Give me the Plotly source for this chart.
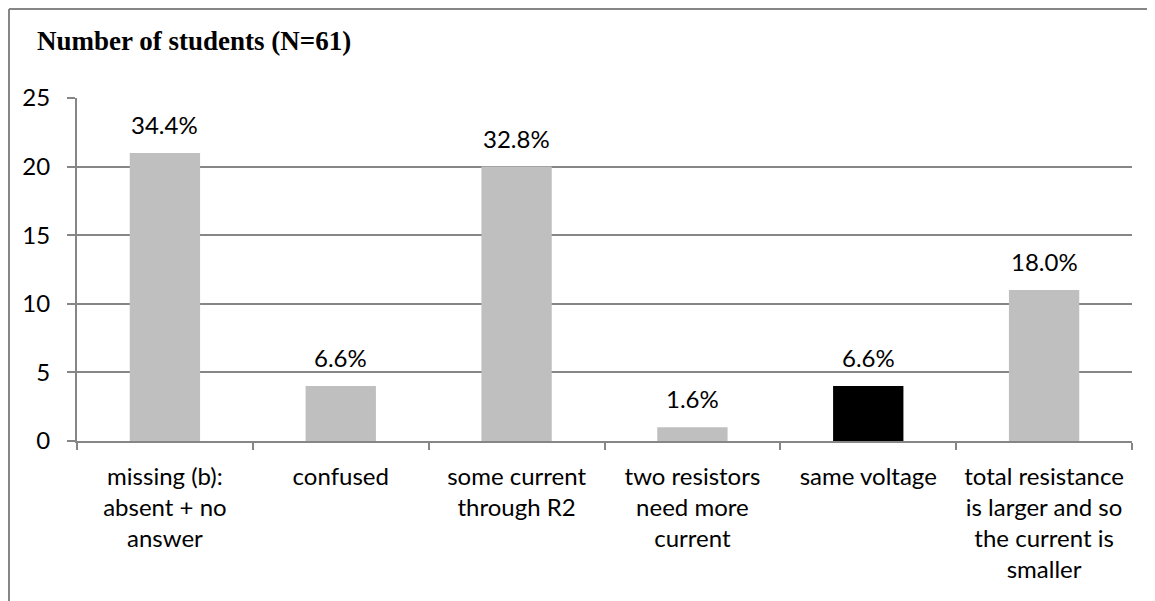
import plotly.graph_objects as go

categories = [
    "missing (b):<br>absent + no<br>answer",
    "confused",
    "some current<br>through R2",
    "two resistors<br>need more<br>current",
    "same voltage",
    "total resistance<br>is larger and so<br>the current is<br>smaller",
]
counts = [21, 4, 20, 1, 4, 11]
pct_labels = ["34.4%", "6.6%", "32.8%", "1.6%", "6.6%", "18.0%"]
bar_colors = ["#BFBFBF", "#BFBFBF", "#BFBFBF", "#BFBFBF", "#000000", "#BFBFBF"]
y_ticks = [0, 5, 10, 15, 20, 25]
title_text = "<b>Number of students (N=61)</b>"

OFF = 8  # page body margin
W, H = 1155 - OFF, 601 - OFF
L, T = 77 - OFF, 98 - OFF
R = W - (1132 - OFF)
B = H - (441 - OFF)
pw, ph = W - L - R, H - T - B

def px_x(p):
    return (p - OFF - L) / pw

def px_y(p):
    return (H - B - (p - OFF)) / ph

FONT = "Lato, Carlito, Calibri, sans-serif"
GRAY = "#868686"

fig = go.Figure()
fig.add_trace(go.Bar(
    x=categories, y=counts,
    marker=dict(color=bar_colors, line=dict(width=0)),
    width=0.4,
    showlegend=False,
    hoverinfo="skip",
))

for c, v, t in zip(categories, counts, pct_labels):
    fig.add_annotation(x=c, y=v, text=t, showarrow=False, yanchor="bottom",
                       yshift=12, font=dict(family=FONT, size=24, color="#000000"))

fig.add_annotation(xref="paper", yref="paper", x=px_x(35), y=px_y(41),
                   xanchor="left", yanchor="middle", text=title_text, showarrow=False,
                   font=dict(family="Liberation Serif, Times New Roman, serif", size=27, color="#000000"))

# outer chart frame (top and left edges visible)
fig.add_shape(type="line", xref="paper", yref="paper",
              x0=px_x(9), x1=px_x(1300), y0=px_y(9), y1=px_y(9),
              line=dict(color=GRAY, width=2), layer="below")
fig.add_shape(type="line", xref="paper", yref="paper",
              x0=px_x(9), x1=px_x(9), y0=px_y(9), y1=px_y(700),
              line=dict(color=GRAY, width=2), layer="below")

fig.update_layout(
    width=W, height=H,
    margin=dict(l=L, r=R, t=T, b=B, pad=0),
    paper_bgcolor="white", plot_bgcolor="white",
    bargap=0.6,
    font=dict(family=FONT, size=24, color="#000000"),
)
fig.update_xaxes(
    type="category", showline=True, linecolor=GRAY, linewidth=2,
    ticks="outside", tickson="boundaries", ticklen=7, tickcolor=GRAY, tickwidth=2,
    showgrid=False, tickfont=dict(family=FONT, size=24, color="#000000"),
    ticklabelstandoff=13,
)
fig.update_yaxes(
    range=[0, 25], tickvals=y_ticks, showline=True, linecolor=GRAY, linewidth=2,
    ticks="outside", ticklen=8, tickcolor=GRAY, tickwidth=2,
    showgrid=True, gridcolor=GRAY, gridwidth=2, zeroline=False,
    tickfont=dict(family=FONT, size=24, color="#000000"),
    ticklabelstandoff=12,
)

fig.write_html("out.html")
